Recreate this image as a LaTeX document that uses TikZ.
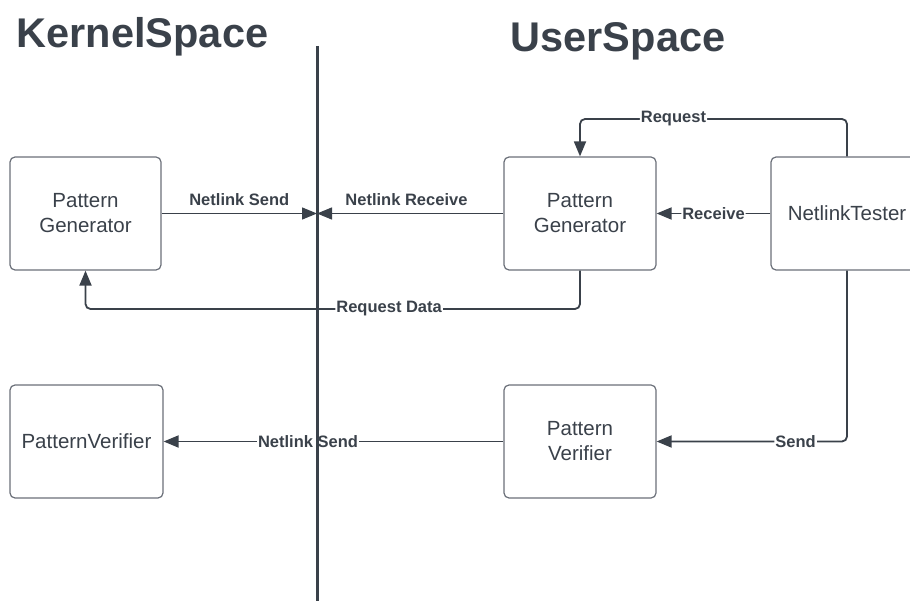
\documentclass[tikz,border=0pt]{standalone}
\usepackage{fontspec}
\setmainfont{Liberation Sans}
\usetikzlibrary{arrows.meta}
\definecolor{ink}{HTML}{3A414A}
\definecolor{edge}{HTML}{6B7079}

\begin{document}
\begin{tikzpicture}[x=1pt,y=-1pt,
  box/.style={draw=edge, line width=1.2pt, rounded corners=5pt, fill=white,
    align=center, font=\fontsize{20.5}{25}\selectfont, text=ink, inner sep=0pt},
  link/.style={draw=ink, line width=1.8pt, rounded corners=5pt,
    -{Triangle[length=15pt,width=12pt]}},
  lbl/.style={font=\bfseries\fontsize{16.5}{19}\selectfont, text=ink,
    fill=white, inner sep=1pt},
  toplbl/.style={font=\bfseries\fontsize{16.5}{19}\selectfont, text=ink,
    inner sep=1pt, above=6pt},
  heading/.style={font=\bfseries\fontsize{41.5}{48}\selectfont, text=ink, anchor=base}]

\useasboundingbox (0,0) rectangle (910,601);
\clip (0,0) rectangle (910,601);

% section headings
\node[heading] (kernel) at (142.5,48) {KernelSpace};
\node[heading] (user) at (618,52) {UserSpace};

% kernel-side blocks
\node[box, minimum width=151pt, minimum height=113pt] (lpg) at (85.5,213.5) {Pattern\\Generator};
\node[box, minimum width=153pt, minimum height=113pt] (lpv) at (86.5,441.5) {PatternVerifier};

% user-side blocks
\node[box, minimum width=152pt, minimum height=113pt] (rpg) at (580,213.5) {Pattern\\Generator};
\node[box, minimum width=152pt, minimum height=113pt] (rpv) at (580,441.5) {Pattern\\Verifier};
\node[box, minimum width=152pt, minimum height=113pt] (nt) at (847,213.5) {NetlinkTester};

% junction points on the boundary and bends
\coordinate (gate) at (317,213.5);
\coordinate (rq) at (580,119);
\coordinate (rd) at (580,309);
\coordinate (sd) at (847,441.5);

% netlink traffic at the boundary
\draw[link, line width=1.4pt] (lpg.east) -- node[toplbl] (lsend) {Netlink Send} (gate);
\draw[link, line width=1.4pt] (rpg.west) -- node[toplbl, pos=0.52] (lrecv) {Netlink Receive} (gate);

% requests and data flow
\draw[link] (rpg.south) -- (rd) -- node[lbl, pos=0.386] (lreq) {Request Data} (rd -| lpg.south) -- (lpg.south);
\draw[link] (nt.north) -- (nt.north |- rq) -- node[lbl, pos=0.65] (lrq) {Request} (rq) -- (rpg.north);
\draw[link] (nt.west) -- node[lbl] (lrc) {Receive} (rpg.east);
\draw[link] (nt.south) -- (sd) -- node[lbl, pos=0.27] (lsd) {Send} (rpv.east);
\draw[link] (rpv.west) -- node[lbl, pos=0.575] (lvs) {Netlink Send} (lpv.east);

% kernel / user boundary
\coordinate (btop) at (317,46);
\coordinate (bbot) at (317,610);
\draw[ink, line width=3pt] (btop) -- (bbot);
\end{tikzpicture}
\end{document}
